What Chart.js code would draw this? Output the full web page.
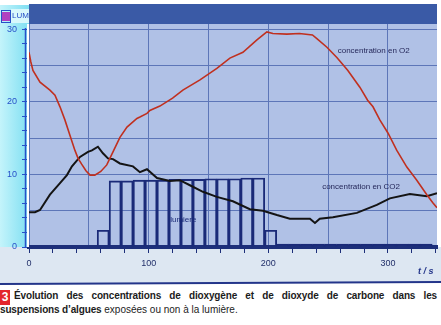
<!DOCTYPE html>
<html lang="fr">
<head>
<meta charset="utf-8">
<script src="https://cdn.jsdelivr.net/npm/chart.js@4.4.1/dist/chart.umd.min.js"></script>
<style>
  html, body { margin: 0; padding: 0; background: #fff; }
  body { width: 441px; height: 325px; overflow: hidden; position: relative; font-family: "Liberation Sans", Arial, sans-serif; }
  #graphe { position: absolute; left: 0; top: 0; }
  .legende { position: absolute; left: 0; top: 289px; width: 437px; font-size: 10px; color: #1c1c1c; line-height: 14px; }
  .num { position: absolute; left: 0; top: 1px; width: 10px; height: 15px; background: #e3262d; color: #fff; font-weight: bold; font-size: 12px; text-align: center; line-height: 15px; }
  .l1 { margin-left: 14px; font-weight: bold; white-space: nowrap; text-align: justify; text-align-last: justify; letter-spacing: -0.15px; }
  .l2 { margin-left: 0; white-space: nowrap; }
  b { font-weight: bold; letter-spacing: -0.15px; }
</style>
</head>
<body>
<canvas id="graphe" width="441" height="287"></canvas>
<div class="legende">
  <div class="num">3</div>
  <div class="l1">Évolution des concentrations de dioxygène et de dioxyde de carbone dans les</div>
  <div class="l2"><b>suspensions d’algues</b> exposées ou non à la lumière.</div>
</div>
<script>
// temps (s) et concentrations
const tempsO2 = [0, 1.5, 3.3, 9.2, 17.5, 21.7, 25.9, 30, 34.2, 38.4, 41, 44, 47.6, 51, 55, 60, 65, 70.2, 76, 81.9, 90.2, 92.7, 98.6, 101, 109.4, 120, 128.6, 142.9, 157, 167.9, 178.8, 190.5, 198.8, 203.8, 215.5, 226, 236.9, 240.6, 249, 257.3, 266.5, 276.5, 283, 287.5, 293.2, 300, 307.4, 315.8, 324.1, 332.5, 337.5, 341];
const valeursO2 = [26.8, 25.5, 24.3, 22.7, 21.6, 20.9, 19.3, 17.5, 15.4, 13.3, 12.2, 11.4, 10.5, 9.9, 9.9, 10.4, 11.3, 13.1, 15.1, 16.5, 17.7, 17.9, 18.4, 18.8, 19.4, 20.5, 21.6, 23.0, 24.6, 26.0, 26.8, 28.5, 29.6, 29.4, 29.3, 29.4, 29.2, 28.7, 27.5, 26.1, 24.3, 22.0, 20.2, 19.3, 17.5, 15.7, 13.3, 11.0, 9.2, 7.2, 6.1, 5.4];

const tempsCO2 = [0, 5, 9.2, 17.5, 25.9, 31.7, 35.9, 42.6, 49.3, 52.6, 57.6, 61.8, 66, 70.2, 76, 86.9, 92.7, 98.6, 107, 117.8, 126, 134.5, 145.4, 157, 170.4, 184.6, 195.5, 207.2, 218, 234.8, 239, 243, 254, 274, 290.7, 301.6, 318.3, 332.5, 341];
const valeursCO2 = [4.8, 4.8, 5.1, 7.2, 8.8, 9.9, 11.1, 12.4, 13.1, 13.3, 13.8, 12.9, 12.2, 12.1, 11.5, 11.1, 10.3, 10.7, 9.5, 9.1, 9.2, 8.5, 7.6, 6.9, 6.3, 5.2, 5.0, 4.4, 3.9, 3.9, 3.3, 3.9, 4.1, 4.7, 5.8, 6.7, 7.3, 7.0, 7.4];

const tempsLumiere = [62, 72, 82, 92, 102, 112, 122, 132, 142, 152, 162, 172, 182, 192, 202, 212, 222, 232, 242, 252, 262, 272, 282, 292, 302, 312, 322, 332];
const valeursLumiere = [2.3, 9.1, 9.1, 9.2, 9.2, 9.2, 9.3, 9.3, 9.3, 9.4, 9.4, 9.4, 9.5, 9.5, 2.3, 0.4, 0.4, 0.4, 0.4, 0.4, 0.4, 0.4, 0.4, 0.4, 0.4, 0.4, 0.4, 0.4];

const graduationsX = [0, 100, 200, 300];
const graduationsY = [0, 10, 20, 30];

const couleurGrille = '#5d76b8';
const bleuAxe = '#2750c8';

function points(xs, ys) {
  return xs.map((x, i) => ({ x: x, y: ys[i] }));
}

// fonds : bandeau, bande cyan, zone du graphe
const fonds = {
  id: 'fonds',
  beforeDraw(chart) {
    const { ctx, chartArea: a } = chart;
    ctx.save();
    ctx.fillStyle = '#dde7f2';
    ctx.fillRect(0, a.bottom, 441, 36);
    const g = ctx.createLinearGradient(0, 0, 29, 0);
    g.addColorStop(0, '#c4f4fb');
    g.addColorStop(1, '#7fdff2');
    ctx.fillStyle = g;
    ctx.fillRect(0, 5, a.left, a.bottom - 5);
    ctx.fillStyle = '#b0c1e6';
    ctx.fillRect(a.left, a.top, a.right - a.left, a.bottom - a.top);
    ctx.fillStyle = '#3a5aa6';
    ctx.fillRect(a.left, 4, a.right - a.left, a.top - 4);
    // petit cadre LUM
    ctx.fillStyle = '#d8f8fc';
    ctx.fillRect(11, 9, 18, 14);
    ctx.fillStyle = '#b040c0';
    ctx.fillRect(2, 12, 8, 9);
    ctx.strokeStyle = bleuAxe;
    ctx.lineWidth = 1;
    ctx.strokeRect(1.5, 10.5, 9, 12);
    ctx.fillStyle = bleuAxe;
    ctx.font = '8px "Liberation Sans", Arial, sans-serif';
    ctx.textBaseline = 'middle';
    ctx.fillText('LUM', 12, 16);
    // ligne bleue du bas
    ctx.strokeStyle = '#23358a';
    ctx.lineWidth = 2;
    ctx.beginPath();
    ctx.moveTo(0, 284);
    ctx.lineTo(441, 282);
    ctx.stroke();
    ctx.restore();
  },
  afterDraw(chart) {
    const { ctx, chartArea: a } = chart;
    ctx.save();
    ctx.strokeStyle = bleuAxe;
    ctx.lineWidth = 1.5;
    ctx.beginPath();
    ctx.moveTo(25.5, a.top + 4);
    ctx.lineTo(25.5, a.bottom);
    ctx.stroke();
    ctx.strokeStyle = '#ffffff';
    ctx.lineWidth = 2;
    ctx.beginPath();
    ctx.moveTo(a.left - 1, a.top);
    ctx.lineTo(a.left - 1, a.bottom);
    ctx.stroke();
    ctx.fillStyle = '#23358a';
    ctx.font = 'italic bold 9px "Liberation Sans", Arial, sans-serif';
    ctx.textBaseline = 'middle';
    ctx.fillText('t / s', 418, 272);
    ctx.restore();
  }
};

// étiquettes des courbes
const etiquettes = {
  id: 'etiquettes',
  afterDatasetsDraw(chart) {
    const { ctx, scales: { x, y } } = chart;
    ctx.save();
    ctx.font = '8px "Liberation Sans", Arial, sans-serif';
    ctx.fillStyle = '#25285a';
    ctx.textBaseline = 'middle';
    ctx.fillText('concentration en O2', x.getPixelForValue(258), y.getPixelForValue(27));
    ctx.fillText('concentration en CO2', x.getPixelForValue(245), y.getPixelForValue(8.25));
    ctx.fillStyle = '#1a2a78';
    ctx.fillText('lumiere', x.getPixelForValue(118), y.getPixelForValue(3.7));
    ctx.restore();
  }
};

new Chart(document.getElementById('graphe'), {
  type: 'line',
  data: {
    datasets: [
      {
        label: 'concentration en O2',
        data: points(tempsO2, valeursO2),
        borderColor: '#c0301f',
        borderWidth: 1.6,
        pointRadius: 0,
        tension: 0,
        order: 1
      },
      {
        label: 'concentration en CO2',
        data: points(tempsCO2, valeursCO2),
        borderColor: '#141414',
        borderWidth: 2,
        pointRadius: 0,
        tension: 0,
        order: 2
      },
      {
        type: 'bar',
        label: 'lumiere',
        data: points(tempsLumiere, valeursLumiere),
        backgroundColor: 'rgba(0,0,0,0)',
        borderColor: '#1a2a78',
        borderWidth: 1.2,
        barPercentage: 1,
        categoryPercentage: 1,
        grouped: false,
        order: 3
      }
    ]
  },
  options: {
    responsive: false,
    devicePixelRatio: 1,
    animation: false,
    layout: { padding: { top: 24, right: 4, left: 0, bottom: 0 } },
    plugins: {
      legend: { display: false },
      tooltip: { enabled: false },
      title: { display: false }
    },
    scales: {
      x: {
        type: 'linear',
        min: 0,
        max: 341,
        offset: false,
        afterBuildTicks(s) {
          const t = [];
          for (let v = 0; v <= 340; v += 10) t.push({ value: v });
          s.ticks = t;
        },
        afterFit(s) { s.height = 40; },
        grid: {
          offset: false,
          color: c => (c.tick && c.tick.value % 50 === 0) ? couleurGrille : 'rgba(0,0,0,0)',
          tickColor: c => (c.tick && c.tick.value % 20 === 0) ? '#1d2f7a' : 'rgba(0,0,0,0)',
          tickLength: 6,
          lineWidth: 1
        },
        border: { display: true, color: '#1d2f7a', width: 4 },
        ticks: {
          autoSkip: false,
          maxRotation: 0,
          padding: 5,
          color: '#22306a',
          font: { size: 9, family: '"Liberation Sans", Arial, sans-serif' },
          callback: v => graduationsX.includes(v) ? String(v) : ''
        }
      },
      y: {
        min: 0,
        max: 30.7,
        afterBuildTicks(s) {
          const t = [];
          for (let v = 0; v <= 30; v += 1) t.push({ value: v });
          s.ticks = t;
        },
        afterFit(s) { s.width = 29; },
        grid: {
          color: c => (c.tick && c.tick.value % 5 === 0 && c.tick.value > 0) ? couleurGrille : 'rgba(0,0,0,0)',
          tickColor: c => (c.tick && c.tick.value % 2 === 0) ? bleuAxe : 'rgba(0,0,0,0)',
          tickLength: 7,
          lineWidth: 1
        },
        border: { display: false },
        ticks: {
          autoSkip: false,
          padding: 5,
          color: bleuAxe,
          font: { size: 9, family: '"Liberation Sans", Arial, sans-serif' },
          callback: v => graduationsY.includes(v) ? String(v) : ''
        }
      }
    }
  },
  plugins: [fonds, etiquettes]
});
</script>
</body>
</html>
